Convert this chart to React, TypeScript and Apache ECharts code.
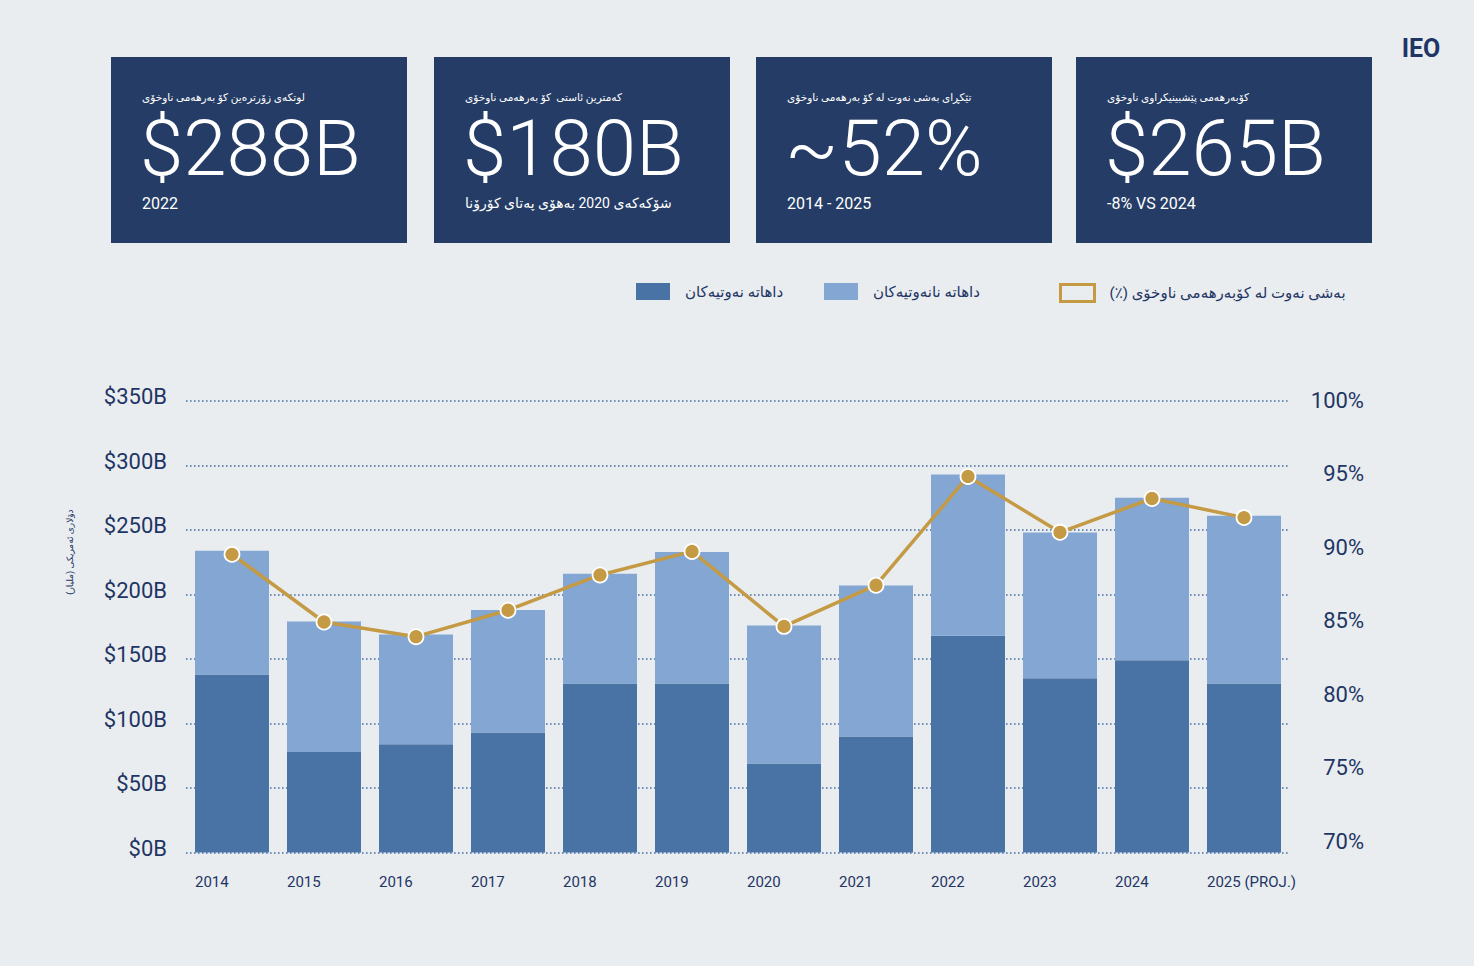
import React, { useEffect, useRef } from "react";
import * as echarts from "echarts";

const categories = ["2014", "2015", "2016", "2017", "2018", "2019", "2020", "2021", "2022", "2023", "2024", "2025 (PROJ.)"];
const oilRevenue = [138, 78, 84, 93, 131, 131, 69, 90, 168, 135, 149, 131];
const nonOilRevenue = [96, 101, 85, 95, 85, 102, 107, 117, 125, 113, 126, 130];
const oilShare = [89.5, 84.9, 83.9, 85.7, 88.1, 89.7, 84.6, 87.4, 94.8, 91.0, 93.3, 92.0];

const RLM = "\u200F";
const seriesNames = ["داهاتە نەوتیەکان", "داهاتە نانەوتیەکان", "بەشی نەوت لە کۆبەرهەمی ناوخۆی (٪)" + RLM];
const yAxisName = "دۆلاری ئەمریکی (ملیار)" + RLM;

const kpiTitles = [
  "لوتکەی زۆرترەین کۆ بەرهەمی ناوخۆی",
  "کەمترین ئاستی  کۆ بەرهەمی ناوخۆی",
  "تێکڕای بەشی نەوت لە کۆ بەرهەمی ناوخۆی",
  "کۆبەرهەمی پێشبینیکراوی ناوخۆی",
];
const kpiValues = ["$288B", "$180B", "~52%", "$265B"];
const kpiNotes = ["2022", "شۆکەکەی 2020 بەهۆی پەتای کۆرۆنا", "2014 - 2025", "-8% VS 2024"];

const NAVY = "#1f3564";
const CARD = "#253d66";
const DARK = "#4a73a5";
const LIGHT = "#84a6d3";
const GOLD = "#c49a45";
const BG = "#e9edf0";
const FONT = "Roboto, 'DejaVu Sans', sans-serif";

export default function App() {
  const ref = useRef<HTMLDivElement>(null);

  useEffect(() => {
    if (!ref.current) return;
    const chart = echarts.init(ref.current, undefined, { renderer: "svg" });

    const cardX = [111, 434, 756, 1076];
    const graphics: any[] = [];
    cardX.forEach((x, i) => {
      graphics.push({
        type: "rect",
        shape: { x, y: 57, width: 296, height: 186 },
        style: { fill: CARD },
        silent: true,
      });
      graphics.push({
        type: "text",
        x: x + 31,
        y: 97,
        style: { text: kpiTitles[i], fill: "#ffffff", font: `10.5px ${FONT}`, textAlign: "left", textVerticalAlign: "middle" },
      });
      graphics.push({
        type: "text",
        x: x + 29,
        y: 148,
        style: { text: kpiValues[i], fill: "#ffffff", font: `300 78px ${FONT}`, textAlign: "left", textVerticalAlign: "middle" },
      });
      graphics.push({
        type: "text",
        x: x + 31,
        y: 203,
        style: { text: kpiNotes[i], fill: "#ffffff", font: `${i === 1 ? 14 : 16}px ${FONT}`, textAlign: "left", textVerticalAlign: "middle" },
      });
    });
    graphics.push({
      type: "text",
      x: 1421,
      y: 48,
      style: { text: "IEO", fill: NAVY, font: `bold 25px ${FONT}`, textAlign: "center", textVerticalAlign: "middle" },
    });
    graphics.push({
      type: "text",
      x: 70,
      y: 552,
      rotation: Math.PI / 2,
      style: { text: yAxisName, fill: NAVY, font: `9px ${FONT}`, textAlign: "center", textVerticalAlign: "middle" },
    });

    const legendText = { color: NAVY, fontSize: 15, fontFamily: FONT, padding: [0, 0, 0, 10] };
    const legendBase = { top: 283, padding: 0, itemWidth: 34, itemHeight: 17, textStyle: legendText };

    chart.setOption({
      animation: false,
      backgroundColor: BG,
      textStyle: { fontFamily: FONT },
      graphic: graphics,
      legend: [
        { ...legendBase, left: 636, data: [{ name: seriesNames[0], icon: "rect" }] },
        { ...legendBase, left: 824, data: [{ name: seriesNames[1], icon: "rect" }] },
        {
          ...legendBase,
          left: 1059,
          data: [
            {
              name: seriesNames[2],
              icon: "rect",
              itemStyle: { color: "transparent", borderColor: GOLD, borderWidth: 3 },
            },
          ],
        },
      ],
      grid: [
        { left: 186, right: 184, top: 401, bottom: 113.5 },
        { left: 186, right: 184, top: 400, bottom: 125 },
      ],
      xAxis: [
        {
          type: "category",
          gridIndex: 0,
          data: categories,
          axisLine: { show: false },
          axisTick: { show: false },
          axisLabel: {
            interval: 0,
            margin: 22,
            color: NAVY,
            fontSize: 15,
            formatter: (v: string) => `{a|${v}}`,
            rich: { a: { width: 74, align: "left", color: NAVY, fontSize: 15, fontFamily: FONT } },
          },
        },
        {
          type: "category",
          gridIndex: 1,
          data: categories,
          show: false,
        },
      ],
      yAxis: [
        {
          type: "value",
          gridIndex: 0,
          min: 0,
          max: 350,
          interval: 50,
          axisLine: { show: false },
          axisTick: { show: false },
          axisLabel: {
            color: NAVY,
            margin: 19,
            formatter: (v: number) => `{l|$${v}B}`,
            rich: { l: { fontSize: 22, color: NAVY, fontFamily: FONT, padding: [0, 0, 9, 0] } },
          },
          splitLine: { show: true, lineStyle: { color: DARK, width: 1.6, type: [1.6, 2.4] } },
        },
        {
          type: "value",
          gridIndex: 1,
          min: 70,
          max: 100,
          interval: 5,
          position: "right",
          axisLine: { show: false },
          axisTick: { show: false },
          axisLabel: { color: NAVY, fontSize: 22, margin: 74, align: "right", formatter: (v: number) => `${v}%` },
          splitLine: { show: false },
        },
      ],
      series: [
        {
          name: seriesNames[0],
          type: "bar",
          stack: "gdp",
          barWidth: 74,
          data: oilRevenue,
          itemStyle: { color: DARK },
        },
        {
          name: seriesNames[1],
          type: "bar",
          stack: "gdp",
          barWidth: 74,
          data: nonOilRevenue,
          itemStyle: { color: LIGHT },
        },
        {
          name: seriesNames[2],
          type: "line",
          xAxisIndex: 1,
          yAxisIndex: 1,
          data: oilShare,
          symbol: "circle",
          symbolSize: 15,
          lineStyle: { color: GOLD, width: 3.5 },
          itemStyle: { color: GOLD, borderColor: "#ffffff", borderWidth: 1.8 },
          z: 5,
        },
      ],
    });

    return () => chart.dispose();
  }, []);

  return <div ref={ref} style={{ position: "fixed", left: 0, top: 0, width: 1474, height: 966 }} />;
}
